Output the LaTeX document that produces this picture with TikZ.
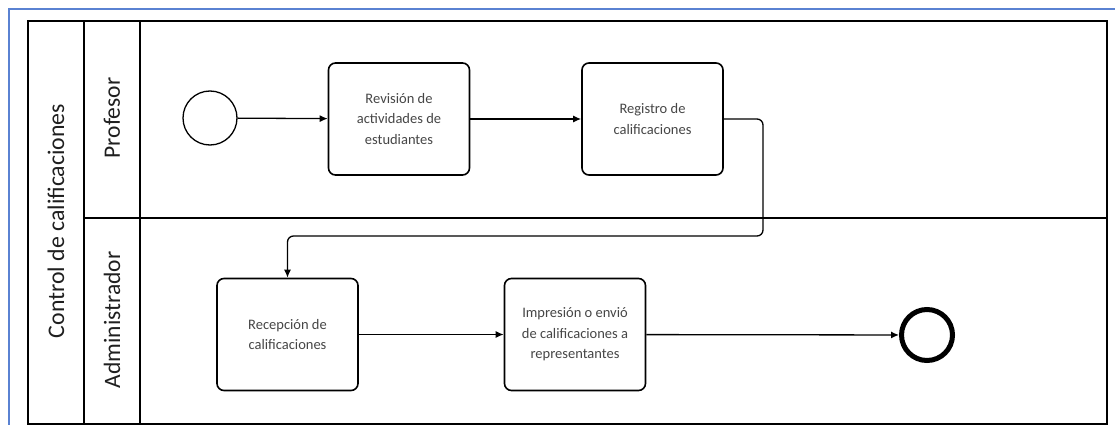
\documentclass[tikz,border=0pt]{standalone}
\usepackage{fontspec}
\setmainfont{Carlito}
\usetikzlibrary{arrows.meta}
\definecolor{frameblue}{RGB}{90,130,210}
\definecolor{txtgray}{RGB}{70,70,70}
\tikzset{
  pool/.style={draw=black, line width=1.6pt},
  task/.style={draw=black, line width=1.6pt, rounded corners=7pt, minimum width=141pt, minimum height=112pt, inner sep=0pt, align=center, font=\fontsize{14.5pt}{20.5pt}\selectfont, text=txtgray},
  startev/.style={circle, draw=black, line width=1.3pt, minimum size=54pt, inner sep=0pt},
  endev/.style={circle, draw=black, line width=5pt, minimum size=51pt, inner sep=0pt},
  flow/.style={draw=black, line width=1.3pt, -{Latex[length=8pt,width=7pt]}, rounded corners=6pt},
  lanelabel/.style={rotate=90, font=\fontsize{23.5pt}{25pt}\selectfont, text=black!88},
  poollabel/.style={rotate=90, font=\fontsize{23.8pt}{25pt}\selectfont, text=black!88}
}
\begin{document}
\begin{tikzpicture}[x=1pt, y=-1pt]
\useasboundingbox (0,0) rectangle (1115,425);
\fill[white] (0,0) rectangle (1115,425);
% outer blue frame
\draw[frameblue, line width=1.8pt] (9,425) -- (9,9) -- (1115,9);
% pool
\draw[pool] (28,21) rectangle (1107,424);
\draw[pool] (84,21) -- (84,424);
\draw[pool] (140,21) -- (140,424);
\draw[pool] (84,218) -- (1107,218);
\node[poollabel] (pl) at (56,221) {Control de calificaciones};
\node[lanelabel] (l1) at (112,118) {Profesor};
\node[lanelabel] (l2) at (112,320) {Administrador};
% nodes
\node[startev] (s) at (210,118) {};
\node[task] (t1) at (399,119) {Revisión de\\actividades de\\estudiantes};
\node[task] (t2) at (652.5,119) {Registro de\\calificaciones};
\node[task] (t3) at (287.5,334.5) {Recepción de\\calificaciones};
\node[task] (t4) at (575,334.5) {Impresión o envió\\de calificaciones a\\representantes};
\node[endev] (e) at (927,335) {};
% flows
\draw[flow] (s) -- (t1);
\draw[flow] (t1) -- (t2);
\draw[flow] (t2.east) -- (763,119) -- (763,236) -- (287.5,236) -- (t3.north);
\draw[flow] (t3) -- (t4);
\draw[flow] (t4) -- (e);
\end{tikzpicture}
\end{document}
